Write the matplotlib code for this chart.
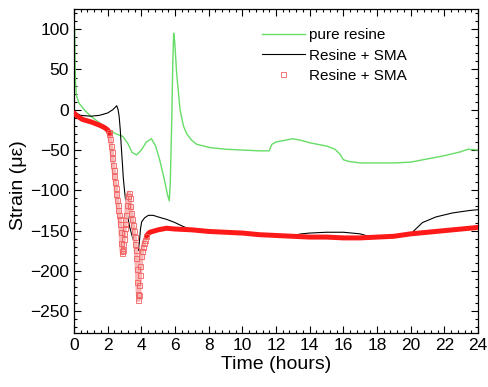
import matplotlib
matplotlib.use("Agg")
import matplotlib.pyplot as plt
from matplotlib.ticker import MultipleLocator
import numpy as np

plt.rcParams['font.family'] = ['Liberation Sans', 'DejaVu Sans']

# ---- data ----
green_t = [0.04, 0.06, 0.09, 0.14, 0.3, 0.65, 1.0, 1.5, 2.0, 2.5, 2.9, 3.2, 3.45, 3.72,
           4.0, 4.3, 4.6, 4.85, 5.1, 5.35, 5.55, 5.66, 5.72, 5.8, 5.87, 5.92, 5.98,
           6.1, 6.3, 6.5, 6.7, 7.0, 7.3, 8.1, 9.0, 10.0, 11.0, 11.6, 11.75, 12.0,
           12.5, 13.0, 13.5, 14.0, 14.5, 15.0, 15.5, 15.8, 16.0, 16.3, 17.0, 18.0,
           19.0, 20.0, 21.0, 22.0, 23.0, 23.4, 24.0]
green_y = [100, 60, 35, 18, 8, -1, -8, -16, -24, -30, -33, -42, -53, -56,
           -50, -40, -36, -45, -63, -85, -105, -113, -90, -20, 60, 95, 85,
           45, 0, -20, -30, -38, -43, -47, -49, -50, -51, -51, -43, -40,
           -38, -36, -38, -41, -43, -45, -49, -55, -62, -64, -66, -66,
           -66, -65, -61, -57, -52, -49, -50]

black_t = [0.0, 0.2, 0.4, 1.0, 1.5, 2.0, 2.3, 2.45, 2.54, 2.62, 2.68, 2.75, 2.8, 2.87,
           2.93, 3.0, 3.13, 3.3, 3.5, 3.7, 3.82, 3.88, 3.95, 4.02, 4.2, 4.42, 4.7,
           5.0, 5.5, 6.0, 6.5, 7.0, 8.0, 9.0, 10.0, 11.0, 12.0, 13.0, 13.5, 14.0,
           15.0, 16.0, 17.0, 17.5, 18.0, 19.0, 20.0, 20.3, 20.7, 21.5, 22.5, 23.5, 24.0]
black_y = [-2, -5, -7, -8, -7, -4, 0, 3, 5, 0, -8, -25, -43, -65,
           -85, -100, -125, -145, -160, -171, -175, -165, -148, -139, -134, -131, -131,
           -133, -136, -140, -145, -149, -151, -152, -153, -155, -156, -156, -154, -153,
           -152, -152, -154, -157, -158, -157, -154, -148, -140, -133, -128, -125, -124]

red_t = [0.0, 0.2, 0.5, 1.0, 1.5, 1.8, 2.0, 2.05, 2.1, 2.15, 2.2, 2.24, 2.28, 2.32, 2.36,
         2.40, 2.44, 2.48, 2.52, 2.56, 2.60, 2.64, 2.68, 2.71, 2.74, 2.77, 2.80, 2.83,
         2.86, 2.89, 2.92, 2.95, 2.98, 3.01, 3.05, 3.10, 3.15, 3.20, 3.25, 3.30, 3.35,
         3.40, 3.45, 3.50, 3.55, 3.60, 3.65, 3.68, 3.71, 3.74, 3.77, 3.80, 3.83, 3.86,
         3.89, 3.92, 3.95, 4.00, 4.05, 4.10, 4.15, 4.20, 4.30, 4.40, 4.50,
         5.0, 5.5, 6.0, 7.0, 8.0, 9.0, 10.0, 11.0, 12.0, 13.0, 14.0, 15.0, 16.0, 17.0,
         18.0, 19.0, 20.0, 21.0, 22.0, 23.0, 24.0]
red_y = [-4, -8, -12, -15, -19, -22, -25, -27, -30, -36, -45, -53, -60, -68, -75,
         -82, -90, -97, -105, -112, -118, -124, -130, -135, -142, -152, -165, -175,
         -178, -174, -167, -160, -153, -147, -142, -131, -118, -107, -103, -110, -120,
         -128, -136, -143, -150, -158, -167, -174, -184, -198, -214, -228, -236, -230,
         -218, -205, -194, -182, -175, -170, -165, -162, -157, -154, -152,
         -149, -147, -148, -149, -151, -152, -153, -155, -156, -157, -158, -158, -159, -159,
         -158, -157, -154, -152, -150, -148, -146]

labels = ['pure resine', 'Resine + SMA', 'Resine + SMA']

# ---- figure ----
fig = plt.figure(figsize=(4.88, 3.87), dpi=100)
ax = fig.add_axes([74/488, 1-333/387, (478-74)/488, (333-9)/387])

rt = np.array(red_t)
ry = np.array(red_y)
flat1 = rt <= 2.1
flat2 = rt >= 4.3
steep = (rt >= 2.05) & (rt <= 4.35)

ax.plot(green_t, green_y, color='#66dd66', lw=1.0, label=labels[0], zorder=2)
ax.plot(black_t, black_y, color='black', lw=0.8, label=labels[1], zorder=2.4)
ax.plot(rt[steep], ry[steep], color='#f9b4b4', lw=3.2, zorder=2.5)
ax.plot(rt[flat1], ry[flat1], color='#ff1a1a', lw=3.6, solid_capstyle='round', zorder=3)
ax.plot(rt[flat2], ry[flat2], color='#ff1a1a', lw=3.6, solid_capstyle='round', zorder=3)
ax.plot(rt[steep], ry[steep], ls='none', marker='s', ms=3.6, mfc='none', mec='#f06060',
        mew=0.6, label=labels[2], zorder=3)

ax.set_xlim(0, 24)
ax.set_ylim(-277, 125)
ax.xaxis.set_major_locator(MultipleLocator(2))
ax.xaxis.set_minor_locator(MultipleLocator(0.4))
ax.yaxis.set_major_locator(MultipleLocator(50))
ax.yaxis.set_minor_locator(MultipleLocator(10))
ax.tick_params(which='both', direction='in', top=True, right=True, width=0.8)
ax.tick_params(which='major', length=5, labelsize=12.5)
ax.tick_params(which='minor', length=2.5)
for s in ax.spines.values():
    s.set_linewidth(0.9)

ax.set_xlabel('Time (hours)', fontsize=14, labelpad=2)
ax.set_ylabel('Strain (\u03bc\u03b5)', fontsize=14)
ax.yaxis.set_label_coords(-0.116, 0.455)

leg = ax.legend(loc='upper left', bbox_to_anchor=(0.465, 0.94), frameon=False,
                fontsize=11, handlelength=2.8, handletextpad=0.3, labelspacing=0.4,
                borderpad=0, borderaxespad=0, numpoints=1)

fig.savefig('out.png', dpi=100)
